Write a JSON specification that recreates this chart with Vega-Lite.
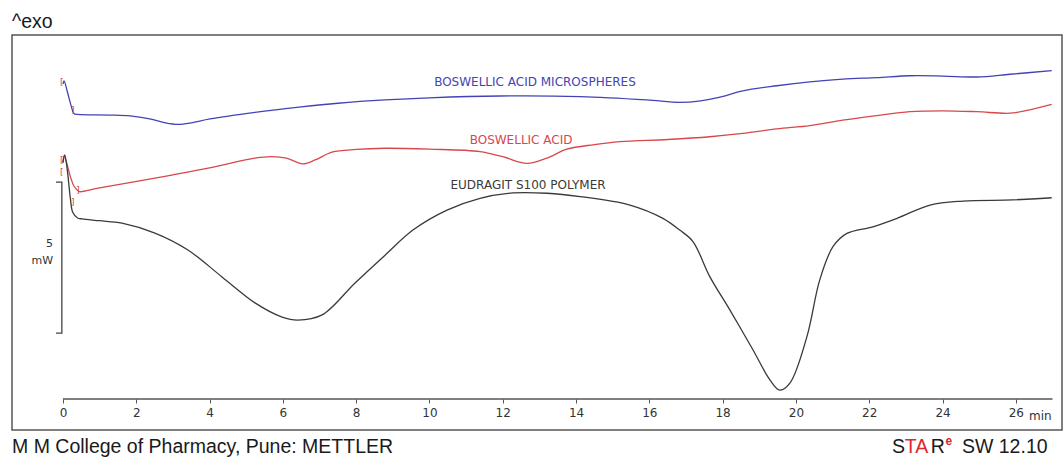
{
  "$schema": "https://vega.github.io/schema/vega-lite/v6.json",
  "width": 1050,
  "height": 395,
  "autosize": "none",
  "padding": {"left": 12, "top": 35, "right": 2, "bottom": 28},
  "background": "white",
  "config": {"view": {"stroke": "#555", "strokeWidth": 1.5}},
  "datasets": {
    "curves": [
      {"series": "blue", "t": 0.0, "hf": 11.45},
      {"series": "blue", "t": 0.03, "hf": 11.56},
      {"series": "blue", "t": 0.12, "hf": 11.2},
      {"series": "blue", "t": 0.22, "hf": 10.75},
      {"series": "blue", "t": 0.3, "hf": 10.48},
      {"series": "blue", "t": 0.4, "hf": 10.45},
      {"series": "blue", "t": 1.28, "hf": 10.43},
      {"series": "blue", "t": 1.83, "hf": 10.4},
      {"series": "blue", "t": 2.37, "hf": 10.3},
      {"series": "blue", "t": 2.8, "hf": 10.17},
      {"series": "blue", "t": 3.14, "hf": 10.12},
      {"series": "blue", "t": 3.5, "hf": 10.17},
      {"series": "blue", "t": 4.01, "hf": 10.3},
      {"series": "blue", "t": 5.24, "hf": 10.52},
      {"series": "blue", "t": 6.5, "hf": 10.7},
      {"series": "blue", "t": 7.5, "hf": 10.82},
      {"series": "blue", "t": 8.79, "hf": 10.93},
      {"series": "blue", "t": 10.0, "hf": 11.0},
      {"series": "blue", "t": 11.92, "hf": 11.06},
      {"series": "blue", "t": 14.11, "hf": 11.04},
      {"series": "blue", "t": 15.93, "hf": 10.93},
      {"series": "blue", "t": 16.83, "hf": 10.85},
      {"series": "blue", "t": 17.4, "hf": 10.9},
      {"series": "blue", "t": 17.93, "hf": 11.02},
      {"series": "blue", "t": 18.55, "hf": 11.23},
      {"series": "blue", "t": 19.48, "hf": 11.4},
      {"series": "blue", "t": 20.38, "hf": 11.53},
      {"series": "blue", "t": 21.28, "hf": 11.62},
      {"series": "blue", "t": 22.21, "hf": 11.67},
      {"series": "blue", "t": 23.11, "hf": 11.73},
      {"series": "blue", "t": 24.01, "hf": 11.72},
      {"series": "blue", "t": 24.94, "hf": 11.69},
      {"series": "blue", "t": 25.84, "hf": 11.78},
      {"series": "blue", "t": 26.98, "hf": 11.9},
      {"series": "red", "t": 0.0, "hf": 8.85},
      {"series": "red", "t": 0.03, "hf": 9.08},
      {"series": "red", "t": 0.1, "hf": 8.85},
      {"series": "red", "t": 0.2, "hf": 8.4},
      {"series": "red", "t": 0.3, "hf": 8.08},
      {"series": "red", "t": 0.41, "hf": 7.92},
      {"series": "red", "t": 0.46, "hf": 7.89},
      {"series": "red", "t": 1.0, "hf": 8.02},
      {"series": "red", "t": 2.51, "hf": 8.34},
      {"series": "red", "t": 4.0, "hf": 8.68},
      {"series": "red", "t": 5.24, "hf": 9.0},
      {"series": "red", "t": 5.7, "hf": 9.05},
      {"series": "red", "t": 6.1, "hf": 9.0},
      {"series": "red", "t": 6.55, "hf": 8.81},
      {"series": "red", "t": 6.9, "hf": 8.95},
      {"series": "red", "t": 7.34, "hf": 9.2},
      {"series": "red", "t": 8.0, "hf": 9.29},
      {"series": "red", "t": 8.79, "hf": 9.33},
      {"series": "red", "t": 10.0, "hf": 9.3},
      {"series": "red", "t": 11.38, "hf": 9.22},
      {"series": "red", "t": 12.0, "hf": 9.05},
      {"series": "red", "t": 12.66, "hf": 8.83},
      {"series": "red", "t": 13.2, "hf": 9.0},
      {"series": "red", "t": 13.75, "hf": 9.3},
      {"series": "red", "t": 14.5, "hf": 9.45},
      {"series": "red", "t": 15.2, "hf": 9.55},
      {"series": "red", "t": 16.5, "hf": 9.62},
      {"series": "red", "t": 17.65, "hf": 9.71},
      {"series": "red", "t": 18.55, "hf": 9.82},
      {"series": "red", "t": 19.48, "hf": 9.97},
      {"series": "red", "t": 20.38, "hf": 10.08},
      {"series": "red", "t": 21.28, "hf": 10.26},
      {"series": "red", "t": 22.21, "hf": 10.41},
      {"series": "red", "t": 23.11, "hf": 10.54},
      {"series": "red", "t": 24.01, "hf": 10.57},
      {"series": "red", "t": 24.94, "hf": 10.54},
      {"series": "red", "t": 25.84, "hf": 10.49},
      {"series": "red", "t": 26.38, "hf": 10.6},
      {"series": "red", "t": 26.98, "hf": 10.78},
      {"series": "black", "t": 0.0, "hf": 8.85},
      {"series": "black", "t": 0.05, "hf": 9.11},
      {"series": "black", "t": 0.12, "hf": 8.6},
      {"series": "black", "t": 0.2, "hf": 7.7},
      {"series": "black", "t": 0.27, "hf": 7.2},
      {"series": "black", "t": 0.4, "hf": 7.02},
      {"series": "black", "t": 0.52, "hf": 6.99},
      {"series": "black", "t": 1.0, "hf": 6.93},
      {"series": "black", "t": 1.61, "hf": 6.85},
      {"series": "black", "t": 2.51, "hf": 6.52},
      {"series": "black", "t": 3.41, "hf": 5.96},
      {"series": "black", "t": 4.34, "hf": 5.07},
      {"series": "black", "t": 5.24, "hf": 4.21},
      {"series": "black", "t": 5.98, "hf": 3.74},
      {"series": "black", "t": 6.41, "hf": 3.64},
      {"series": "black", "t": 7.07, "hf": 3.81},
      {"series": "black", "t": 7.97, "hf": 4.87},
      {"series": "black", "t": 8.79, "hf": 5.79},
      {"series": "black", "t": 9.55, "hf": 6.62},
      {"series": "black", "t": 10.48, "hf": 7.28},
      {"series": "black", "t": 11.38, "hf": 7.67},
      {"series": "black", "t": 12.28, "hf": 7.85},
      {"series": "black", "t": 13.21, "hf": 7.84},
      {"series": "black", "t": 14.11, "hf": 7.73},
      {"series": "black", "t": 15.47, "hf": 7.45},
      {"series": "black", "t": 16.37, "hf": 7.01},
      {"series": "black", "t": 16.83, "hf": 6.62},
      {"series": "black", "t": 17.19, "hf": 6.24},
      {"series": "black", "t": 17.65, "hf": 5.08},
      {"series": "black", "t": 18.2, "hf": 3.97},
      {"series": "black", "t": 18.83, "hf": 2.65},
      {"series": "black", "t": 19.29, "hf": 1.66},
      {"series": "black", "t": 19.56, "hf": 1.32},
      {"series": "black", "t": 19.84, "hf": 1.56},
      {"series": "black", "t": 20.3, "hf": 3.09},
      {"series": "black", "t": 20.65, "hf": 4.97},
      {"series": "black", "t": 21.01, "hf": 6.07},
      {"series": "black", "t": 21.39, "hf": 6.51},
      {"series": "black", "t": 22.1, "hf": 6.73},
      {"series": "black", "t": 22.76, "hf": 7.01},
      {"series": "black", "t": 23.66, "hf": 7.45},
      {"series": "black", "t": 24.56, "hf": 7.58},
      {"series": "black", "t": 25.92, "hf": 7.62},
      {"series": "black", "t": 26.98, "hf": 7.69}
    ],
    "labels": [
      {"series": "blue", "text": "BOSWELLIC ACID MICROSPHERES", "t": 12.88, "hf": 11.52},
      {"series": "red", "text": "BOSWELLIC ACID", "t": 12.5, "hf": 9.59},
      {"series": "black", "text": "EUDRAGIT S100 POLYMER", "t": 12.69, "hf": 8.11}
    ],
    "brackets": [
      {"text": "[", "t": -0.03, "hf": 11.52},
      {"text": "]", "t": 0.27, "hf": 10.6},
      {"text": "[", "t": -0.03, "hf": 8.94},
      {"text": "[", "t": -0.03, "hf": 8.54},
      {"text": "]", "t": 0.41, "hf": 7.95},
      {"text": "]", "t": 0.27, "hf": 7.55}
    ],
    "scalebar": [
      {"o": 1, "t": -0.19, "hf": 8.21},
      {"o": 2, "t": -0.03, "hf": 8.21},
      {"o": 3, "t": -0.03, "hf": 3.21},
      {"o": 4, "t": -0.19, "hf": 3.21}
    ],
    "scaletext": [
      {"text": "5", "t": -0.27, "hf": 6.17},
      {"text": "mW", "t": -0.27, "hf": 5.61}
    ],
    "bigtext": [
      {"text": "^exo", "t": -1.39, "hf": 13.31},
      {"text": "M M College of Pharmacy, Pune: METTLER", "t": -1.39, "hf": -0.76},
      {"text": "S", "t": 22.62, "hf": -0.76},
      {"text": "R", "t": 23.68, "hf": -0.76},
      {"text": "SW 12.10", "t": 24.53, "hf": -0.76}
    ],
    "redtext": [
      {"text": "TA", "t": 22.97, "hf": -0.76}
    ],
    "suptext": [
      {"text": "e", "t": 24.08, "hf": -0.5}
    ]
  },
  "layer": [
    {
      "data": {"values": [{"t": 0, "t2": 27, "hf": 1.026}]},
      "mark": {"type": "rule", "color": "#555", "strokeWidth": 1.3},
      "encoding": {
        "x": {"field": "t", "type": "quantitative", "scale": {"domain": [-1.39, 27.26], "nice": false, "zero": false},
          "axis": {"orient": "bottom", "offset": -31, "values": [0,1,2,3,4,5,6,7,8,9,10,11,12,13,14,15,16,17,18,19,20,21,22,23,24,25,26,27],
            "labelExpr": "datum.value % 2 == 0 && datum.value < 27 ? datum.label : ''", "domain": false, "grid": false,
            "tickSize": 4, "tickColor": "#555", "tickWidth": 1, "labelFont": "DejaVu Sans", "labelFontSize": 12, "labelColor": "#333",
            "labelPadding": 4, "title": null, "labelFlush": false, "labelOverlap": false}},
        "x2": {"field": "t2"},
        "y": {"field": "hf", "type": "quantitative", "scale": {"domain": [0, 13.08], "nice": false, "zero": false}, "axis": null}
      }
    },
    {
      "data": {"name": "curves"},
      "mark": {"type": "line", "interpolate": "catmull-rom", "strokeWidth": 1.3},
      "encoding": {
        "x": {"field": "t", "type": "quantitative"},
        "y": {"field": "hf", "type": "quantitative"},
        "color": {"field": "series", "type": "nominal", "scale": {"domain": ["blue", "red", "black"], "range": ["#4343b5", "#d8474b", "#3a3a3a"]}, "legend": null}
      }
    },
    {
      "data": {"name": "labels"},
      "mark": {"type": "text", "font": "DejaVu Sans", "fontSize": 12, "align": "center", "baseline": "middle"},
      "encoding": {
        "x": {"field": "t", "type": "quantitative"},
        "y": {"field": "hf", "type": "quantitative"},
        "text": {"field": "text"},
        "color": {"field": "series", "type": "nominal", "legend": null}
      }
    },
    {
      "data": {"name": "brackets"},
      "mark": {"type": "text", "font": "DejaVu Sans", "fontSize": 9, "align": "center", "baseline": "middle", "color": "#d8474b"},
      "encoding": {
        "x": {"field": "t", "type": "quantitative"},
        "y": {"field": "hf", "type": "quantitative"},
        "text": {"field": "text"}
      }
    },
    {
      "data": {"name": "scalebar"},
      "mark": {"type": "line", "color": "#444", "strokeWidth": 1.3},
      "encoding": {
        "x": {"field": "t", "type": "quantitative"},
        "y": {"field": "hf", "type": "quantitative"},
        "order": {"field": "o"}
      }
    },
    {
      "data": {"name": "scaletext"},
      "mark": {"type": "text", "font": "DejaVu Sans", "fontSize": 11, "align": "right", "baseline": "middle", "color": "#333"},
      "encoding": {
        "x": {"field": "t", "type": "quantitative"},
        "y": {"field": "hf", "type": "quantitative"},
        "text": {"field": "text"}
      }
    },
    {
      "data": {"values": [{"text": "min", "t": 26.36, "hf": 0.46}]},
      "mark": {"type": "text", "font": "DejaVu Sans", "fontSize": 12, "align": "left", "baseline": "middle", "color": "#333"},
      "encoding": {
        "x": {"field": "t", "type": "quantitative"},
        "y": {"field": "hf", "type": "quantitative"},
        "text": {"field": "text"}
      }
    },
    {
      "data": {"name": "bigtext"},
      "mark": {"type": "text", "font": "Liberation Sans", "fontSize": 19.5, "align": "left", "baseline": "alphabetic", "color": "#1a1a1a"},
      "encoding": {
        "x": {"field": "t", "type": "quantitative"},
        "y": {"field": "hf", "type": "quantitative"},
        "text": {"field": "text"}
      }
    },
    {
      "data": {"name": "redtext"},
      "mark": {"type": "text", "font": "Liberation Sans", "fontSize": 19.5, "align": "left", "baseline": "alphabetic", "color": "#e0262b"},
      "encoding": {
        "x": {"field": "t", "type": "quantitative"},
        "y": {"field": "hf", "type": "quantitative"},
        "text": {"field": "text"}
      }
    },
    {
      "data": {"name": "suptext"},
      "mark": {"type": "text", "font": "Liberation Sans", "fontSize": 12, "fontWeight": "bold", "align": "left", "baseline": "alphabetic", "color": "#e0262b"},
      "encoding": {
        "x": {"field": "t", "type": "quantitative"},
        "y": {"field": "hf", "type": "quantitative"},
        "text": {"field": "text"}
      }
    }
  ]
}
